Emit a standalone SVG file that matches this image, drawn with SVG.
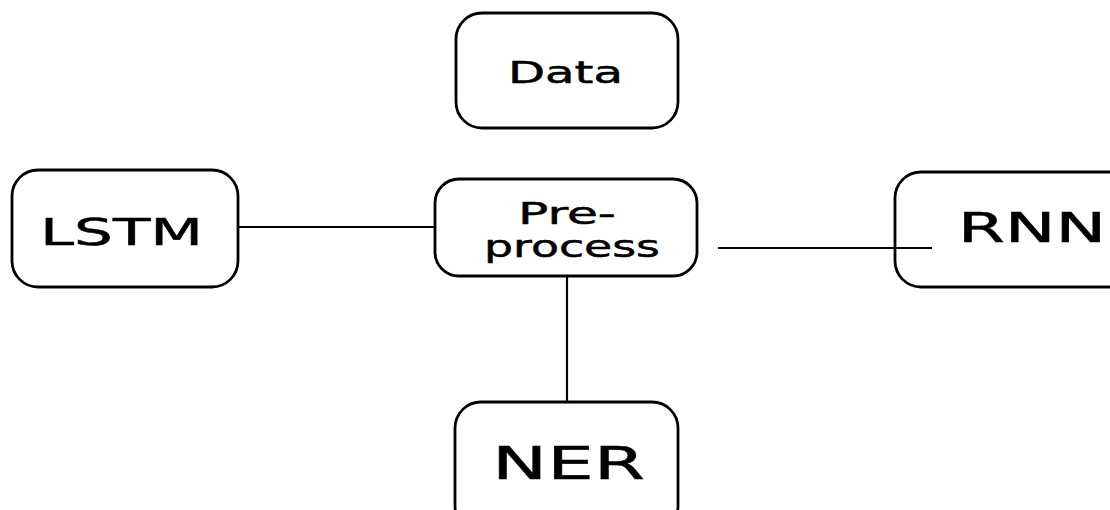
<svg xmlns="http://www.w3.org/2000/svg" width="1110" height="510" viewBox="0 0 1110 510">
<style>
.box{fill:#fff;stroke:#000;stroke-width:2.8}
.lbl{font-family:"DejaVu Sans",sans-serif;fill:#000;stroke:#000;stroke-width:0.5}
.conn line{stroke:#000;stroke-width:2.2}
</style>
<rect width="1110" height="510" fill="#fff"/>
<g id="data"><rect class="box" x="456" y="13" width="222" height="115" rx="26"/><text class="lbl" x="508" y="83" font-size="30" textLength="115" lengthAdjust="spacingAndGlyphs">Data</text></g>
<g id="lstm"><rect class="box" x="12" y="170" width="226" height="117" rx="26"/><text class="lbl" x="40" y="245" font-size="38" textLength="163" lengthAdjust="spacingAndGlyphs">LSTM</text></g>
<g id="preprocess"><rect class="box" x="435" y="179" width="262" height="97" rx="24"/><text class="lbl" x="518" y="224" font-size="31" textLength="98" lengthAdjust="spacingAndGlyphs">Pre-</text><text class="lbl" x="484" y="257" font-size="31" textLength="176" lengthAdjust="spacingAndGlyphs">process</text></g>
<g id="rnn"><rect class="box" x="895" y="172" width="240" height="115" rx="26"/><text class="lbl" x="958" y="242" font-size="40" textLength="148" lengthAdjust="spacingAndGlyphs">RNN</text></g>
<g id="ner"><rect class="box" x="455" y="402" width="223" height="130" rx="26"/><text class="lbl" x="492" y="479" font-size="45" textLength="153" lengthAdjust="spacingAndGlyphs">NER</text></g>
<g class="conn">
<line x1="238" y1="227" x2="435" y2="227"/>
<line x1="718" y1="248" x2="932" y2="248"/>
<line x1="567" y1="276" x2="567" y2="402"/>
</g>
</svg>
